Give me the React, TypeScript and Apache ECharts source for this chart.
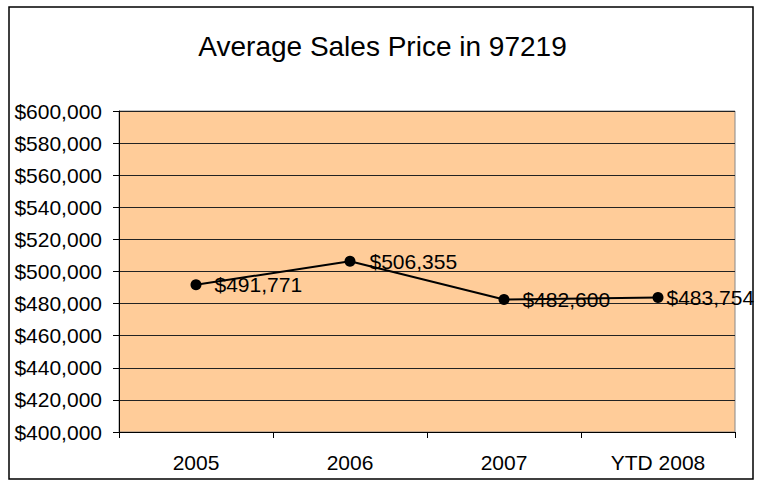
import React, { useEffect, useRef } from "react";
import * as echarts from "echarts";

const categories = ["2005", "2006", "2007", "YTD 2008"];
const prices = [491771, 506355, 482600, 483754];
const labelDistances = [13, 14, 13, 3];
const titleText = "Average Sales Price in 97219";

const fmt = (v: number) => "$" + v.toLocaleString("en-US");

export default function App() {
  const ref = useRef<HTMLDivElement>(null);
  useEffect(() => {
    const chart = echarts.init(ref.current!, null, { renderer: "svg" });
    const font = "'Liberation Sans', Arial, Helvetica, sans-serif";
    chart.setOption({
      animation: false,
      backgroundColor: "#ffffff",
      title: {
        text: titleText,
        left: "center",
        top: 27,
        textStyle: { fontFamily: font, fontSize: 28, fontWeight: "normal", color: "#000" },
      },
      graphic: [
        {
          type: "rect",
          shape: { x: 9, y: 7, width: 744, height: 472 },
          style: { fill: "none", stroke: "#000", lineWidth: 1.5 },
          silent: true,
        },
      ],
      grid: {
        left: 119,
        right: 30,
        top: 111,
        bottom: 49,
        show: true,
        backgroundColor: "#FFCC99",
        borderColor: "#888",
        borderWidth: 1,
      },
      xAxis: {
        type: "category",
        data: categories,
        boundaryGap: true,
        axisLine: { lineStyle: { color: "#000", width: 1 } },
        axisTick: { show: true, length: 6, lineStyle: { color: "#000" } },
        axisLabel: { color: "#000", fontFamily: font, fontSize: 21, margin: 20 },
      },
      yAxis: {
        type: "value",
        min: 400000,
        max: 600000,
        interval: 20000,
        axisLine: { show: true, lineStyle: { color: "#000", width: 1 } },
        axisTick: { show: true, length: 6, lineStyle: { color: "#000" } },
        splitLine: { show: true, lineStyle: { color: "#222", width: 1 } },
        axisLabel: {
          color: "#000",
          fontFamily: font,
          fontSize: 21,
          margin: 17,
          formatter: (v: number) => fmt(v),
        },
      },
      series: [
        {
          type: "line",
          data: prices.map((v, i) => ({
            value: v,
            label: { distance: labelDistances[i] },
          })),
          symbol: "circle",
          symbolSize: 11,
          lineStyle: { color: "#000", width: 2 },
          itemStyle: { color: "#000" },
          label: {
            show: true,
            position: "right",
            color: "#000",
            fontFamily: font,
            fontSize: 21,
            formatter: (p: any) => fmt(p.value),
          },
        },
      ],
    });
    return () => chart.dispose();
  }, []);
  return (
    <div
      ref={ref}
      style={{ position: "fixed", left: 0, top: 0, width: 765, height: 481 }}
    />
  );
}
